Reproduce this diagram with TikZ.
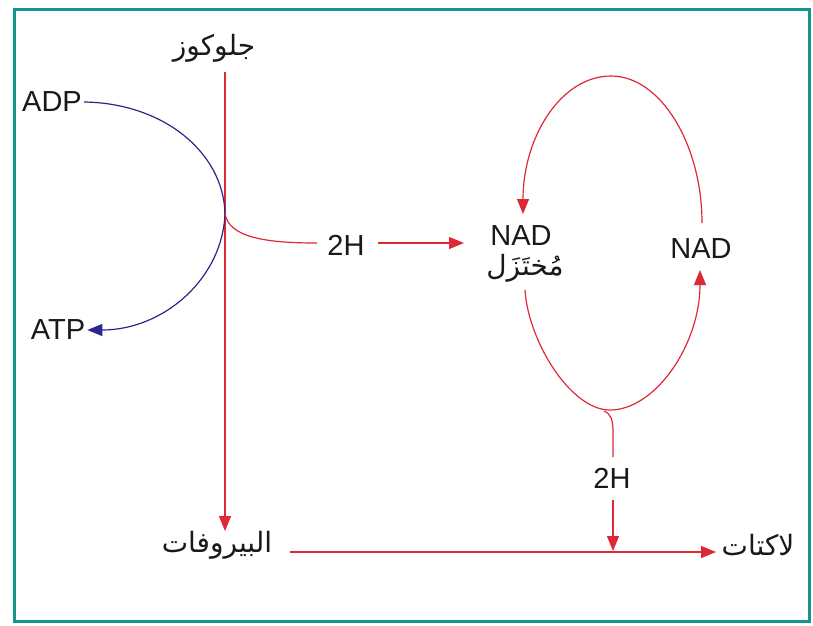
\documentclass[tikz,border=0pt]{standalone}
\usepackage{fontspec}
\setmainfont{Liberation Sans}
\newfontfamily\arabicfont[Script=Arabic]{DejaVu Sans}
\TeXXeTstate=1
\usetikzlibrary{arrows.meta}
\definecolor{frameteal}{RGB}{20,150,140}
\definecolor{lred}{RGB}{222,40,55}
\definecolor{lblue}{RGB}{40,40,135}
\definecolor{txt}{RGB}{25,25,25}
\tikzset{
  lat/.style={font=\fontsize{29}{32}\selectfont, text=txt, inner sep=2pt},
  arab/.style={font=\arabicfont\fontsize{28}{32}\selectfont, text=txt, inner sep=2pt},
  redline/.style={draw=lred, line width=1.2pt},
  blueline/.style={draw=lblue, line width=1.2pt},
  rtip/.style={-{Triangle[length=15pt,width=12pt,fill=lred]}},
  btip/.style={-{Triangle[length=15pt,width=12pt,fill=lblue]}},
}
\begin{document}
\begin{tikzpicture}[x=1pt,y=-1pt]
\useasboundingbox (0,0) rectangle (813,625);
\draw[frameteal, line width=3pt] (14,9) rectangle (809,621);

% nodes
\node[arab] (glu) at (214,48) {\beginR جلوكوز\endR};
\node[arab] (pyr) at (217,545) {\beginR البيروفات\endR};
\node[arab] (lac) at (758,545) {\beginR لاكتات\endR};
\node[lat] (adp) at (52,102) {ADP};
\node[lat] (atp) at (58,330) {ATP};
\node[lat] (h2a) at (346,245) {2H};
\node[lat] (nadr) at (521,236) {NAD};
\node[arab] (mukh) at (525,268) {\beginR مُختَزَل\endR};
\node[lat] (nad) at (701,249) {NAD};
\node[lat] (h2b) at (612,478) {2H};

% named points on connectors
\coordinate (br) at (225,213);
\coordinate (gtop) at (225,72);
\coordinate (gend) at (225,531);
\coordinate (hstart) at (290,552);
\coordinate (hend) at (716,552);
\coordinate (c1) at (317,243);
\coordinate (a1s) at (378,243);
\coordinate (a1e) at (464,243);
\coordinate (ltop) at (611,76);
\coordinate (lleft) at (523,214);
\coordinate (lright) at (702,223);
\coordinate (lstart) at (525,290);
\coordinate (lbot) at (610,410);
\coordinate (lend) at (700,270);
\coordinate (bstart) at (604,411);
\coordinate (bmid) at (613,457);
\coordinate (b2s) at (613,500);
\coordinate (b2e) at (613,551);

% glucose -> pyruvate
\draw[redline, rtip] (gtop) -- (gend);
% pyruvate -> lactate
\draw[redline, rtip] (hstart) -- (hend);
% ADP -> ATP
\draw[blueline, btip] (adp.east) .. controls (163,103) and (223,152) .. (br)
  .. controls (223,278) and (164,330) .. (atp.east);
% 2H branch
\draw[redline] (br) .. controls (228,238) and (268,243) .. (c1);
\draw[redline, rtip] (a1s) -- (a1e);
% NAD cycle upper
\draw[redline, rtip] (lright) .. controls (702,145) and (661,76) .. (ltop)
  .. controls (561,76) and (523,137) .. (lleft);
% NAD cycle lower
\draw[redline, rtip] (lstart) .. controls (528,340) and (570,410) .. (lbot)
  .. controls (655,410) and (700,345) .. (lend);
% branch down to 2H
\draw[redline] (bstart) .. controls (611,414) and (613,420) .. (613,432) -- (bmid);
\draw[redline, rtip] (b2s) -- (b2e);
\end{tikzpicture}
\end{document}
